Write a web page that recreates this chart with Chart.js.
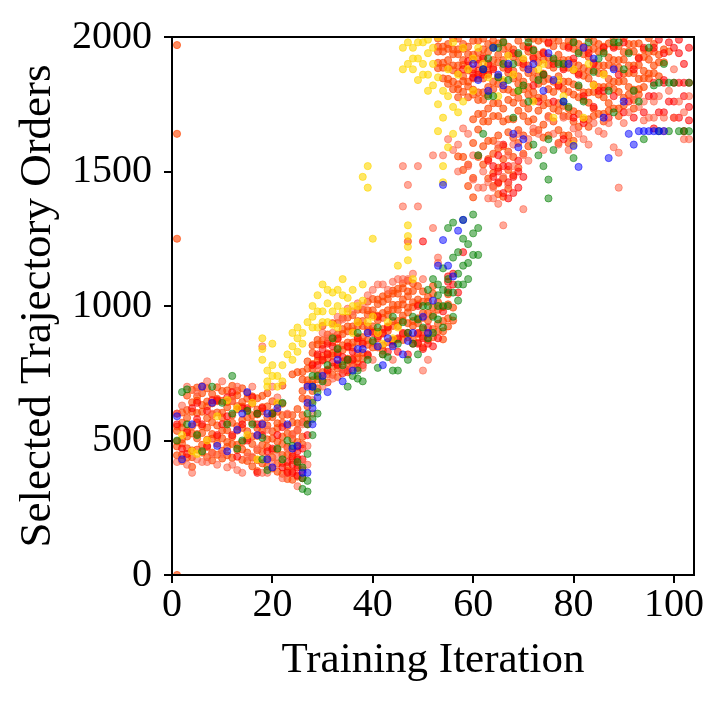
<!DOCTYPE html>
<html>
<head>
<meta charset="utf-8">
<script src="https://cdn.jsdelivr.net/npm/chart.js@4.4.1/dist/chart.umd.min.js"></script>
<style>
  html, body { margin: 0; padding: 0; background: #fff; }
  #wrap { width: 722px; height: 706px; }
</style>
</head>
<body>
<div id="wrap"><canvas id="myChart" width="722" height="706"></canvas></div>
<script>
// tick labels
var xTicks = [0, 20, 40, 60, 80, 100];
var yTicks = [0, 500, 1000, 1500, 2000];

// each row: [iteration, order, order, ...]
var orangeredRows = [
  [1, 0, 1250, 1640, 1970, 445, 478, 497, 536, 552], [2, 424, 446, 489, 505, 548, 566, 604],
  [3, 437, 471, 515, 536, 584, 613, 667], [4, 402, 438, 463, 526, 553, 607, 642, 688],
  [5, 466, 508, 524, 567, 602, 648, 664, 697], [6, 455, 484, 528, 553, 607, 632, 676, 702],
  [7, 438, 476, 503, 548, 583, 627, 645, 694], [8, 426, 455, 507, 524, 568, 596, 638, 673],
  [9, 447, 488, 514, 556, 604, 646, 655, 698], [10, 433, 462, 508, 537, 586, 603, 647, 684],
  [11, 445, 476, 494, 538, 566, 624, 643, 686], [12, 436, 487, 514, 566, 594, 646, 664, 703],
  [13, 465, 484, 537, 553, 616, 628, 668, 685], [14, 428, 467, 494, 547, 576, 626, 643, 694],
  [15, 424, 455, 507, 534, 587, 613, 656, 676], [16, 404, 436, 487, 515, 566, 594, 637, 664],
  [17, 386, 427, 464, 517, 546, 597, 615, 657], [18, 415, 457, 484, 537, 564, 608, 624, 666],
  [19, 404, 433, 476, 504, 556, 586, 627, 676], [20, 396, 437, 464, 507, 534, 587, 604, 646],
  [21, 384, 414, 467, 496, 546, 564, 607, 634], [22, 376, 417, 446, 487, 514, 566, 594, 637, 704],
  [23, 357, 386, 404, 447, 476, 526, 554, 596], [24, 354, 384, 427, 455, 506, 524, 567, 594, 746],
  [25, 366, 407, 434, 477, 494, 537, 564, 617, 754], [26, 486, 514, 567, 594, 656, 684, 727, 755],
  [27, 576, 627, 654, 706, 724, 767, 794], [28, 684, 706, 724, 767, 784, 826, 854],
  [29, 694, 727, 744, 796, 814, 857, 874], [30, 726, 754, 797, 814, 856, 873, 926],
  [31, 716, 747, 764, 806, 824, 867, 894], [32, 744, 774, 816, 824, 866, 884, 936],
  [33, 736, 767, 784, 827, 844, 876, 894, 936], [34, 764, 794, 836, 854, 896, 914, 956],
  [35, 754, 787, 804, 847, 864, 906, 924, 957], [36, 784, 804, 846, 864, 906, 924, 966],
  [37, 786, 806, 824, 867, 884, 926, 944, 986], [38, 804, 826, 866, 884, 926, 944, 986],
  [39, 816, 856, 874, 906, 924, 967, 984, 1016], [40, 846, 864, 906, 924, 966, 984, 1026],
  [41, 846, 887, 904, 947, 964, 1007, 1024], [42, 834, 854, 897, 914, 956, 974, 1016, 1036],
  [43, 866, 907, 924, 967, 984, 1026, 1044], [44, 856, 874, 926, 944, 986, 1004, 1046, 1057],
  [45, 876, 926, 944, 986, 1004, 1046, 1064], [46, 874, 896, 946, 964, 1006, 1024, 1066, 1084],
  [47, 884, 936, 976, 994, 1036, 1054, 1094, 1240], [48, 876, 926, 944, 996, 1014, 1056, 1084],
  [49, 864, 896, 936, 954, 1006, 1024, 1074], [50, 846, 886, 914, 956, 974, 1016, 1054],
  [51, 874, 896, 946, 974, 1016, 1034], [52, 884, 914, 966, 994, 1046, 1074],
  [53, 906, 934, 986, 1014, 1884, 1904, 1946, 1964, 1994],
  [54, 876, 906, 944, 996, 1846, 1886, 1904, 1946, 1964],
  [55, 924, 954, 1006, 1044, 1826, 1844, 1886, 1914, 1956, 1974],
  [56, 946, 994, 1806, 1834, 1876, 1894, 1936, 1954, 1996],
  [57, 1556, 1776, 1806, 1824, 1866, 1894, 1936, 1954, 1994],
  [58, 1506, 1554, 1796, 1836, 1854, 1896, 1914, 1956, 1974],
  [59, 1446, 1526, 1776, 1816, 1834, 1876, 1894, 1936, 1964],
  [60, 1404, 1476, 1606, 1694, 1786, 1804, 1846, 1864, 1916, 1934, 1986],
  [61, 1554, 1656, 1714, 1766, 1794, 1846, 1874, 1916, 1944, 1986],
  [62, 1526, 1594, 1686, 1714, 1766, 1794, 1846, 1874, 1926, 1954, 1994],
  [63, 1474, 1546, 1614, 1686, 1734, 1786, 1814, 1866, 1894, 1946, 1974],
  [64, 1446, 1494, 1566, 1614, 1706, 1754, 1806, 1834, 1886, 1914, 1966, 1986],
  [65, 1416, 1456, 1514, 1586, 1634, 1706, 1754, 1826, 1854, 1906, 1934, 1976],
  [66, 1406, 1474, 1546, 1594, 1686, 1734, 1806, 1834, 1886, 1914, 1956, 1984],
  [67, 1436, 1506, 1574, 1646, 1694, 1766, 1804, 1866, 1894, 1936, 1964],
  [68, 1486, 1554, 1626, 1694, 1756, 1794, 1846, 1874, 1926, 1954],
  [69, 1514, 1606, 1654, 1726, 1774, 1826, 1854, 1906, 1934, 1986],
  [70, 1566, 1634, 1706, 1754, 1806, 1834, 1886, 1914, 1966],
  [71, 1594, 1686, 1734, 1786, 1814, 1866, 1894, 1946, 1964, 1996],
  [72, 1646, 1694, 1766, 1794, 1846, 1874, 1926, 1954, 1994],
  [73, 1654, 1726, 1774, 1826, 1854, 1906, 1934, 1986],
  [74, 1626, 1674, 1746, 1774, 1836, 1864, 1916, 1944, 1994],
  [75, 1634, 1706, 1754, 1806, 1844, 1896, 1924, 1976],
  [76, 1686, 1734, 1796, 1834, 1886, 1914, 1966, 1996],
  [77, 1606, 1654, 1726, 1754, 1816, 1854, 1906, 1934, 1986],
  [78, 1634, 1706, 1744, 1806, 1834, 1886, 1914, 1966],
  [79, 1606, 1634, 1706, 1734, 1796, 1834, 1886, 1914, 1966, 1986],
  [80, 1614, 1686, 1724, 1786, 1824, 1876, 1904, 1956, 1984],
  [81, 1666, 1714, 1776, 1814, 1866, 1894, 1946, 1974],
  [82, 1694, 1766, 1794, 1856, 1884, 1936, 1964],
  [83, 1666, 1694, 1756, 1794, 1846, 1874, 1926, 1954, 1996],
  [84, 1706, 1734, 1796, 1824, 1876, 1904, 1956, 1984],
  [85, 1714, 1786, 1814, 1866, 1894, 1946, 1974],
  [86, 1686, 1714, 1776, 1814, 1866, 1894, 1946, 1964],
  [87, 1726, 1754, 1816, 1844, 1896, 1924, 1976],
  [88, 1734, 1806, 1834, 1886, 1914, 1966, 1994],
  [89, 1706, 1734, 1796, 1834, 1886, 1914, 1966],
  [90, 1746, 1774, 1836, 1864, 1916, 1944, 1996],
  [91, 1786, 1814, 1866, 1894, 1946, 1974], [92, 1734, 1766, 1804, 1866, 1894, 1946, 1974],
  [93, 1786, 1806, 1844, 1896, 1924, 1976], [94, 1814, 1846, 1874, 1926, 1954],
  [95, 1846, 1864, 1916, 1944, 1996], [96, 1866, 1894, 1946, 1974], [97, 1854, 1906, 1934],
  [98, 1906, 1954], [99, 1946]
];

var redRows = [
  [1, 560, 600], [2, 470], [3, 450, 530], [4, 620], [5, 580, 640], [6, 560], [7, 610, 480],
  [8, 650], [9, 520, 650], [10, 560], [11, 590, 660], [12, 680, 520], [13, 440], [14, 560, 620],
  [15, 500, 620], [16, 660], [17, 380, 560, 600], [18, 620, 520], [19, 460], [20, 470, 600],
  [21, 520], [22, 550, 400], [23, 420, 380], [24, 380, 410, 440], [25, 370, 400, 430, 460],
  [26, 360, 390, 430, 470], [27, 560, 520], [28, 780], [29, 780, 820], [30, 800, 840],
  [31, 760, 820, 860], [32, 790, 850], [33, 780, 880, 820], [34, 750, 810], [35, 760, 850, 800],
  [36, 800, 830], [37, 880, 770], [38, 780, 860], [39, 820], [40, 900], [41, 960, 880], [42, 900],
  [43, 830, 920], [44, 870], [45, 880, 830], [46, 900], [47, 820, 900], [48, 860],
  [49, 860, 1000, 900], [50, 1240, 880, 840], [51, 860, 920], [52, 850], [53, 880], [54, 980],
  [55, 1060, 1110, 1090], [56, 1080, 1120], [57, 1050], [58, 1200, 1880], [59, 1910],
  [60, 1880, 1850], [61, 1900, 1860], [62, 1880, 1920, 1860], [63, 1860, 1900, 1540],
  [64, 1520, 1480, 1880], [65, 1560, 1460, 1500], [66, 1600, 1420, 1520],
  [67, 1520, 1400, 1880, 1460], [68, 1480, 1940, 1420], [69, 1540, 1440, 1500], [70, 1900, 1480],
  [71, 1960], [72, 1820, 1920], [73, 1760], [74, 1940, 1860], [75, 1980], [76, 1760, 1900],
  [77, 1820], [78, 1620, 1880], [79, 1960], [80, 1920, 1700], [81, 1860], [82, 1680, 1780],
  [83, 1940], [84, 1900, 1740], [85, 1800], [86, 1800, 1960], [87, 1700], [88, 1960, 1780],
  [89, 1860], [90, 1720, 1980], [91, 1760], [92, 1880, 1700], [93, 1920], [94, 1720, 1960],
  [95, 1780], [96, 1780, 1660, 1830, 1960], [97, 1720, 1990], [98, 1720, 1840, 1830, 1940],
  [99, 1980, 1760], [100, 1960, 1760, 1830, 1700], [101, 1700, 1830, 1990, 1940],
  [102, 1780, 1900, 1830, 1650], [103, 1830, 1740, 1960, 1690]
];

var tomatoRows = [
  [1, 600, 420], [2, 630], [3, 410, 700], [4, 380], [5, 680, 430], [6, 420], [7, 720, 420],
  [8, 600, 450], [9, 410], [10, 450, 720], [11, 400], [12, 410, 650], [13, 390, 700], [14, 380],
  [15, 440], [16, 440, 700], [17, 470], [18, 380, 850], [19, 540, 380], [20, 700, 420],
  [21, 440, 660], [22, 360], [23, 600, 470], [24, 520], [25, 540, 330], [26, 420, 560],
  [27, 410, 480], [28, 600, 650], [29, 760], [30, 700, 900], [31, 880], [32, 730, 900],
  [33, 960], [34, 760, 950], [35, 990], [36, 980, 770], [37, 1010], [38, 1000, 770], [39, 1040],
  [40, 1060, 800], [41, 1080], [42, 1080, 820], [43, 1060], [44, 800, 1090], [45, 1100],
  [46, 1100, 1370, 1520], [47, 1450, 1100], [48, 1120], [49, 1520, 1370], [50, 760, 1100],
  [51, 800], [52, 1290, 1560], [53, 1180, 1160], [54, 1560], [55, 1000, 1620], [56, 1580],
  [57, 1500, 1600], [58, 1660], [59, 1520, 1640], [60, 1470, 1560], [61, 1560, 1440],
  [62, 1500, 1440], [63, 1460, 1400], [64, 1400, 1440], [65, 1380, 1600], [66, 1300, 1480],
  [67, 1450, 1560], [68, 1600, 1520], [69, 1640], [70, 1360, 1560], [71, 1620, 1540],
  [72, 1660], [73, 1640], [74, 1580], [75, 1700], [76, 1640], [77, 1600], [78, 1700],
  [79, 1580], [80, 1660], [81, 1640], [82, 1620], [83, 1600], [84, 1680], [85, 1650],
  [86, 1640], [87, 1680], [88, 1590], [89, 1570, 1440], [90, 1680], [91, 1720], [92, 1780],
  [93, 1740], [94, 1760, 1690], [95, 1700], [96, 1700, 1760], [97, 1780], [98, 1650, 1700],
  [99, 1800], [100, 1700, 1880], [101, 1760], [102, 1620, 1720], [103, 1780, 1620]
];

var goldRows = [
  [2, 520], [4, 460], [5, 450], [7, 500], [9, 590], [11, 650], [13, 620], [15, 520], [16, 640],
  [17, 430], [18, 880, 800, 840], [19, 760, 720, 700], [20, 740, 860, 780], [21, 700, 640, 740],
  [22, 780, 720], [23, 820], [24, 850, 900, 800], [25, 880, 830, 920], [26, 900, 860],
  [27, 940], [28, 960, 1000, 920], [29, 920, 1040, 980], [30, 980, 1080, 940], [31, 940, 1010, 1060],
  [32, 1050, 980, 930], [33, 1000, 920, 1060], [34, 1100, 1040, 980], [35, 980, 1030],
  [36, 1060, 900, 1000], [37, 1000, 940], [38, 1080, 1480, 1020], [39, 1520, 1440, 940],
  [40, 1250, 960], [41, 900], [42, 860], [43, 940], [44, 880], [45, 1150, 920],
  [46, 1880, 1960], [47, 1170, 1220, 1260, 1300, 1900, 1980],
  [48, 1960, 1880, 1100, 1920], [49, 1920, 1840, 1980], [50, 1980, 1900, 1860],
  [51, 1860, 1940, 1800, 1990], [52, 1900, 1820, 1960], [53, 1650, 1750, 2000, 1850],
  [54, 1460, 1520, 1700, 1800], [55, 1590, 1780, 1880], [56, 1640, 1980, 1740], [57, 1720, 1860],
  [58, 1760, 1960], [59, 1880], [60, 1800, 1920], [61, 1960], [62, 1900], [63, 1850], [64, 1960],
  [65, 1780], [66, 1840], [67, 1930], [68, 1860], [69, 1800], [70, 1920], [72, 1760],
  [73, 1880], [74, 1900], [76, 1700], [77, 1840], [78, 1780], [80, 1600, 1880], [82, 1700],
  [83, 1900], [84, 1820], [86, 1860]
];

var greenRows = [
  [1, 500], [2, 680], [3, 690, 560], [5, 520], [6, 460], [8, 700], [10, 640], [11, 560],
  [12, 740, 600], [13, 470], [14, 500], [15, 610], [16, 560], [17, 600], [18, 430, 510],
  [19, 390], [20, 600], [21, 470], [22, 640, 430], [23, 500], [24, 480], [25, 420],
  [26, 320, 400, 360], [27, 310, 350, 450, 560, 600], [28, 520, 640, 700, 740, 580],
  [29, 600, 680, 740], [30, 720], [31, 780], [32, 880], [33, 840], [34, 780], [35, 700, 800],
  [36, 740], [37, 730, 760, 900], [38, 720], [39, 800], [40, 870], [41, 770, 920], [42, 820],
  [43, 810], [44, 760, 960], [45, 760, 860], [46, 940], [47, 900, 800], [48, 960, 860],
  [49, 820, 950], [50, 920, 1000], [51, 880, 1000, 1060], [52, 900, 1100, 960],
  [53, 950, 1040, 1080, 1000], [54, 920, 1000, 1140, 1060], [55, 1000, 1100, 1290, 1050],
  [56, 960, 1050, 1180, 1310], [57, 1020, 1120, 1200, 1080], [58, 1080, 1150, 1320, 1250],
  [59, 1160, 1230, 1100], [60, 1190, 1270, 1340], [61, 1290, 1190, 1560], [62, 1640, 1880],
  [63, 1920, 1780], [64, 1780, 1960], [65, 1960, 1850], [66, 1900, 1980], [67, 1840],
  [68, 1700, 1900], [69, 1940, 1800], [70, 1820], [71, 1980, 1760], [72, 1600, 1950],
  [73, 1560, 1840], [74, 1520, 1860], [75, 1470, 1400, 1620], [76, 1580, 1920], [77, 1900],
  [78, 1900, 1760], [79, 1740], [80, 1550, 1980], [81, 1940, 1820], [82, 1760], [83, 1980],
  [84, 1870], [85, 1920], [86, 1940], [87, 1800], [88, 1720, 1980], [89, 1980], [90, 1880],
  [91, 1940], [92, 1800], [93, 1760], [94, 1620], [95, 1960], [96, 1820], [97, 1650, 1830],
  [98, 1900], [99, 1650, 1830], [100, 1830], [101, 1650], [102, 1650], [103, 1650, 1830]
];

var blueRows = [
  [1, 590], [2, 430], [4, 560], [6, 700], [8, 640], [9, 480], [11, 460], [13, 540], [14, 600],
  [15, 680], [17, 520], [18, 560], [19, 430, 600], [20, 400], [21, 620], [23, 560], [24, 470],
  [25, 480], [26, 380], [27, 380, 640, 700], [28, 560, 700, 620], [29, 660], [30, 740],
  [31, 680], [33, 800], [34, 720], [36, 760], [37, 840], [38, 840], [39, 900], [41, 850],
  [42, 780], [43, 880], [44, 850], [46, 820], [47, 870], [48, 900], [50, 960], [51, 900],
  [52, 1020], [53, 1150], [54, 1245, 1450], [55, 1150], [56, 1110], [57, 1280], [58, 1320],
  [60, 1900], [61, 1840], [62, 1880], [63, 1800], [64, 1960], [65, 1860], [66, 1820],
  [67, 1900], [68, 1640], [69, 1590], [70, 1620], [71, 1880], [72, 1900], [74, 1800],
  [75, 1940], [76, 1840], [78, 1760], [79, 1900], [80, 1595], [81, 1517], [82, 1960],
  [84, 1920], [86, 1700], [87, 1550], [88, 1880], [90, 1760], [91, 1640], [92, 1600],
  [93, 1650], [94, 1650], [95, 1650], [96, 1650], [97, 1650], [98, 1650]
];

function toPoints(rows) {
  var pts = [];
  rows.forEach(row => {
    for (var k = 1; k < row.length; k++) {
      pts.push({ x: row[0], y: row[k] });
    }
  });
  return pts;
}

function makeSet(label, rows, color) {
  return {
    label: label,
    data: toPoints(rows),
    backgroundColor: color,
    borderColor: color,
    borderWidth: 1,
    pointRadius: 3.6,
    pointHoverRadius: 3.6,
    clip: 0
  };
}

var boxPlugin = {
  id: 'box',
  afterDraw(chart) {
    var a = chart.chartArea;
    var ctx = chart.ctx;
    ctx.save();
    ctx.strokeStyle = '#000';
    ctx.lineWidth = 2;
    ctx.strokeRect(a.left, a.top, a.right - a.left, a.bottom - a.top);
    ctx.restore();
  }
};

var serif = 'Liberation Serif';

const ctx = document.getElementById('myChart').getContext('2d');
const myChart = new Chart(ctx, {
  type: 'scatter',
  data: {
    datasets: [
      makeSet('blue', blueRows, 'rgba(0, 0, 255, 0.5)'),
      makeSet('green', greenRows, 'rgba(0, 128, 0, 0.5)'),
      makeSet('gold', goldRows, 'rgba(255, 215, 0, 0.6)'),
      makeSet('tomato', tomatoRows, 'rgba(255, 99, 71, 0.55)'),
      makeSet('red', redRows, 'rgba(255, 0, 0, 0.55)'),
      makeSet('orangered', orangeredRows, 'rgba(255, 69, 0, 0.62)')
    ]
  },
  options: {
    responsive: false,
    animation: false,
    events: [],
    layout: { padding: { top: 37, right: 28, left: 0, bottom: 0 } },
    plugins: { legend: { display: false }, tooltip: { enabled: false } },
    scales: {
      x: {
        type: 'linear',
        min: 0,
        max: 104,
        afterFit(scale) { scale.height = 131; },
        afterBuildTicks(scale) { scale.ticks = xTicks.map(v => ({ value: v })); },
        border: { display: true, color: '#000', width: 2 },
        grid: { display: true, drawOnChartArea: false, drawTicks: true, tickLength: 8, color: '#000', lineWidth: 2 },
        ticks: { color: '#000', padding: 2, maxRotation: 0, callback: v => String(v), font: { family: serif, size: 40, lineHeight: 1 } },
        title: { display: true, text: 'Training Iteration', color: '#000', padding: { top: 0, bottom: 24 }, font: { family: serif, size: 43, lineHeight: 1 } }
      },
      y: {
        type: 'linear',
        min: 0,
        max: 2000,
        afterFit(scale) { scale.width = 172; },
        afterBuildTicks(scale) { scale.ticks = yTicks.map(v => ({ value: v })); },
        border: { display: true, color: '#000', width: 2 },
        grid: { display: true, drawOnChartArea: false, drawTicks: true, tickLength: 8, color: '#000', lineWidth: 2 },
        ticks: { color: '#000', padding: 12, callback: v => String(v), font: { family: serif, size: 40, lineHeight: 1 } },
        title: { display: true, text: 'Selected Trajectory Orders', color: '#000', padding: { top: 16, bottom: 0 }, font: { family: serif, size: 45, lineHeight: 1 } }
      }
    }
  },
  plugins: [boxPlugin]
});
</script>
</body>
</html>
